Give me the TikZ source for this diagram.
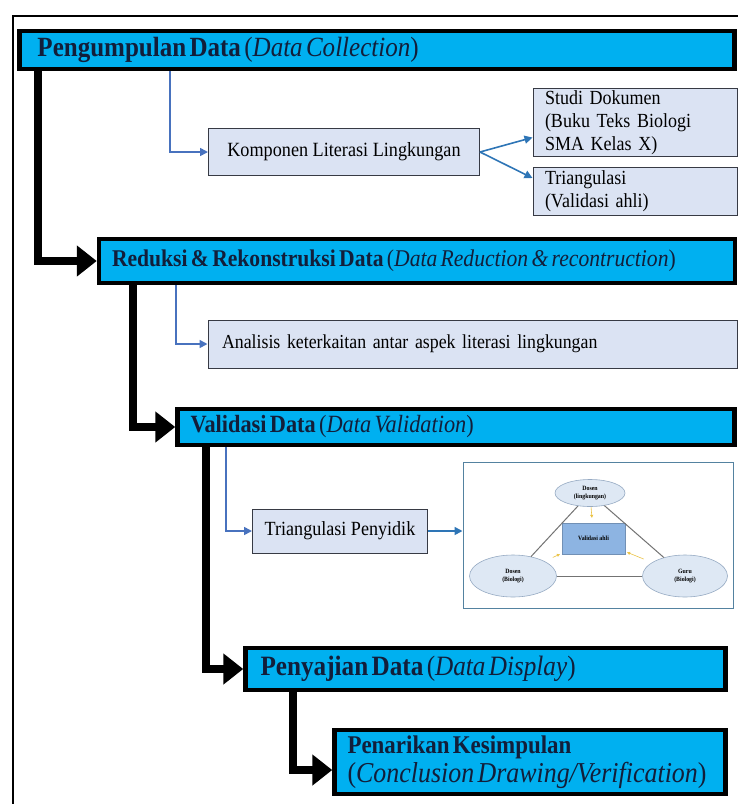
\documentclass[tikz,border=0pt]{standalone}
\usepackage{fontspec}
\setmainfont{Liberation Serif}[FakeStretch=0.9]
\usepackage{tikz}
\usetikzlibrary{arrows.meta,shapes.geometric}
\definecolor{phasecyan}{RGB}{0,176,240}
\definecolor{phasenavy}{RGB}{18,30,58}
\definecolor{boxfill}{RGB}{219,227,243}
\definecolor{boxedge}{RGB}{55,58,68}
\definecolor{linkblue}{RGB}{72,114,190}
\definecolor{tealblue}{RGB}{46,117,182}
\definecolor{frameblue}{RGB}{84,130,160}
\definecolor{ellfill}{RGB}{222,232,244}
\definecolor{elledge}{RGB}{150,170,195}
\definecolor{ahlifill}{RGB}{141,180,226}
\definecolor{edgegrey}{RGB}{115,115,115}
\definecolor{tipyellow}{RGB}{235,195,70}

\begin{document}
\begin{tikzpicture}[x=1pt,y=-1pt,
    phase/.style={draw=black, line width=4.5pt, fill=phasecyan, text=phasenavy, align=left, inner ysep=0pt},
    stepbox/.style={draw=boxedge, line width=1pt, fill=boxfill, text=black, inner sep=0pt},
    flow/.style={line width=8pt, -{Triangle[length=20pt,width=30pt]}},
    link/.style={draw=linkblue, line width=1.6pt, -{Triangle[length=8pt,width=8pt]}},
    blob/.style={ellipse, draw=elledge, fill=ellfill, line width=0.6pt, inner sep=0pt, align=center, font=\fontsize{6.5}{8.5}\selectfont\bfseries},
    tick/.style={draw=tipyellow, line width=0.6pt, -{Triangle[length=3pt,width=3pt]}}]
\useasboundingbox (0,0) rectangle (738,804);
% outer frame
\draw[line width=1.5pt] (13,804) |- (738,16);

% main phases
\node[phase, inner xsep=18pt, text width=679pt, minimum height=38pt] (collect) at (377,50)
    {\fontsize{27.8}{30}\selectfont\textbf{Pengumpulan Data} (\textit{Data Collection})};
\node[phase, inner xsep=13pt, text width=610pt, minimum height=44pt] (reduce) at (417,261)
    {\fontsize{24}{27}\selectfont\textbf{Reduksi \& Rekonstruksi Data} (\textit{Data Reduction \& recontruction})};
\node[phase, inner xsep=13pt, text width=531pt, minimum height=36pt] (validate) at (456,427)
    {\fontsize{24.8}{27}\selectfont\textbf{Validasi Data} (\textit{Data Validation})};
\node[phase, inner xsep=15pt, text width=450pt, minimum height=42pt] (display) at (485.5,669)
    {\fontsize{28}{30}\selectfont\textbf{Penyajian Data} (\textit{Data Display})};
\node[phase, inner xsep=13pt, text width=365pt, minimum height=64pt] (conclude) at (530,762)
    {\fontsize{25.5}{31}\selectfont\textbf{Penarikan Kesimpulan}\\[2pt]\fontsize{28.8}{31}\selectfont\mbox{(\textit{Conclusion Drawing/Verification})}};

% sub steps
\node[stepbox, minimum width=271pt, minimum height=47pt, font=\fontsize{20.2}{24}\selectfont] (komponen) at (344,152)
    {Komponen Literasi Lingkungan};
\node[stepbox, minimum width=204pt, minimum height=68pt, inner xsep=12pt, text width=180pt, align=left,
    font=\fontsize{20}{23}\selectfont] (studi) at (635,122.5)
    {Studi Dokumen\\(Buku Teks Biologi\\SMA Kelas X)};
\node[stepbox, minimum width=204pt, minimum height=48pt, inner xsep=12pt, text width=180pt, align=left,
    font=\fontsize{20}{23}\selectfont] (ahlitri) at (635,191)
    {Triangulasi\\(Validasi ahli)};
\node[stepbox, minimum width=529pt, minimum height=48pt, inner xsep=14pt, text width=501pt, align=left,
    font=\fontsize{19.8}{24}\selectfont] (analisis) at (472.5,344)
    {Analisis keterkaitan antar aspek literasi lingkungan};
\node[stepbox, minimum width=175pt, minimum height=44pt, font=\fontsize{20.1}{24}\selectfont] (penyidik) at (340,531)
    {Triangulasi Penyidik};

% triangulation picture
\node[draw=frameblue, line width=1pt, fill=white, minimum width=270pt, minimum height=146pt, inner sep=0pt] (tripic) at (598,535) {};
\node[blob, minimum width=70pt, minimum height=27pt] (dlingk) at (590,493) {Dosen\\(lingkungan)};
\node[blob, minimum width=87pt, minimum height=42pt] (dbio) at (513,576) {Dosen\\(Biologi)};
\node[blob, minimum width=85pt, minimum height=42pt] (gbio) at (685,576) {Guru\\(Biologi)};
\node[fill=ahlifill, draw=ahlifill!80!black, line width=0.4pt, minimum width=63pt, minimum height=31pt, inner sep=0pt,
    font=\fontsize{6.5}{8.5}\selectfont\bfseries] (ahli) at (593.5,538.5) {Validasi ahli};
\draw[edgegrey, line width=1pt] (dlingk) -- (dbio);
\draw[edgegrey, line width=1pt] (dlingk) -- (gbio);
\draw[edgegrey, line width=1pt] (dbio) -- (gbio);
\draw[tick, shorten >=5pt] (dlingk) -- (ahli);
\draw[tick, shorten <=9pt, shorten >=2pt] (dbio) -- (ahli);
\draw[tick, shorten <=9pt, shorten >=2pt] (gbio) -- (ahli);

% main flow
\draw[flow] ([xshift=21pt]collect.south west) |- (reduce.west);
\draw[flow] ([xshift=36pt]reduce.south west) |- (validate.west);
\draw[flow] ([xshift=31pt]validate.south west) |- (display.west);
\draw[flow] ([xshift=50pt]display.south west) |- ([yshift=-8pt]conclude.west);

% thin links
\draw[link] ([xshift=153pt]collect.south west) |- (komponen.west);
\draw[link, draw=tealblue] (komponen.east) -- ([yshift=-15pt]studi.west);
\draw[link, draw=tealblue] (komponen.east) -- ([yshift=13pt]ahlitri.west);
\draw[link] ([xshift=79pt]reduce.south west) |- (analisis.west);
\draw[link] ([xshift=51pt]validate.south west) |- (penyidik.west);
\draw[link, draw=tealblue] (penyidik.east) -- (penyidik.east -| tripic.west);
\end{tikzpicture}
\end{document}
